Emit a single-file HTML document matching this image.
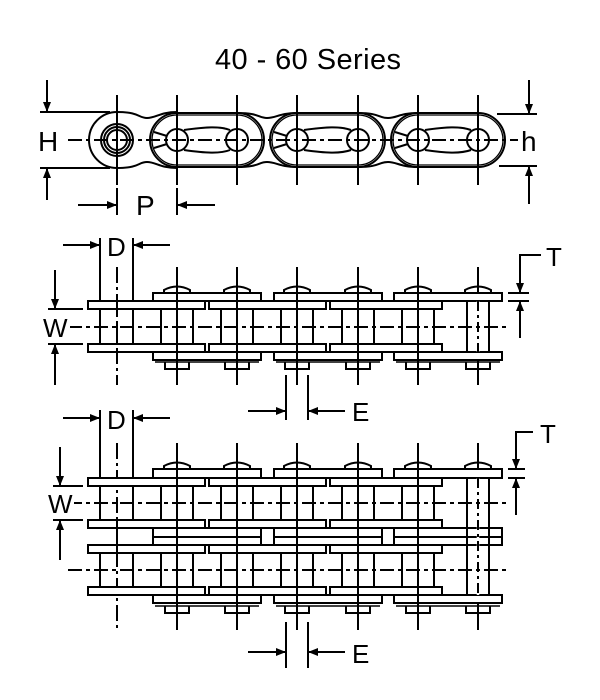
<!DOCTYPE html>
<html><head><meta charset="utf-8"><style>
html,body{margin:0;padding:0;background:#fff;}
svg{display:block;}
text{font-family:"Liberation Sans",sans-serif;fill:#000;}
</style></head><body>
<svg width="600" height="700" viewBox="0 0 600 700" xmlns="http://www.w3.org/2000/svg">
<defs>
<marker id="ar" viewBox="0 0 10 10" refX="10" refY="5" markerWidth="12" markerHeight="10" markerUnits="userSpaceOnUse" orient="auto"><path d="M0,1 L10,5 L0,9 Z" fill="#000"/></marker>
</defs>
<g stroke="#000" stroke-width="2" fill="none">
<text x="215" y="69" font-size="29" textLength="186" stroke="none">40 - 60 Series</text>

<!-- ===== TOP VIEW ===== -->
<!-- inner links (waisted) -->
<g fill="#fff">
<path d="M117,112 C140,112 138,118 147,118 C156,118 160,112 177,112 L177,168 C160,168 156,162 147,162 C138,162 140,168 117,168 A28,28 0 0 1 117,112 Z"/>
<path d="M237,113 C260,113 258,118 267,118 C276,118 280,113 297,113 L297,167 C280,167 276,162 267,162 C258,162 260,167 237,167 Z"/>
<path d="M358,113 C380,113 378,118 388,118 C397,118 400,113 418,113 L418,167 C400,167 397,162 388,162 C378,162 380,167 358,167 Z"/>
</g>
<!-- outer links -->
<g fill="#fff">
<path d="M177,113 L237,113 A27,27 0 0 1 237,167 L177,167 A27,27 0 0 1 177,113 Z"/>
<path d="M297,113 L358,113 A27,27 0 0 1 358,167 L297,167 A27,27 0 0 1 297,113 Z"/>
<path d="M418,113 L478,113 A27,27 0 0 1 478,167 L418,167 A27,27 0 0 1 418,113 Z"/>
</g>
<g stroke-width="1.3">
<path d="M177,115 L237,115 A25,25 0 0 1 237,165 L177,165 A25,25 0 0 1 177,115 Z"/>
<path d="M297,115 L358,115 A25,25 0 0 1 358,165 L297,165 A25,25 0 0 1 297,115 Z"/>
<path d="M418,115 L478,115 A25,25 0 0 1 478,165 L418,165 A25,25 0 0 1 418,115 Z"/>
</g>
<!-- slots -->
<path d="M184,130 C205,127 220,126 230,130 M184,150 C205,153 220,154 230,150"/>
<path d="M304,130 C325,127 340,126 351,130 M304,150 C325,153 340,154 351,150"/>
<path d="M425,130 C445,127 460,126 471,130 M425,150 C445,153 460,154 471,150"/>
<!-- spokes -->
<path d="M154,132 L167,136 M154,148 L167,144 M274,132 L287,136 M274,148 L287,144 M395,132 L408,136 M395,148 L408,144"/>
<!-- first pin -->
<circle cx="117" cy="140" r="16" fill="#fff"/><circle cx="117" cy="140" r="13"/><circle cx="117" cy="140" r="10"/>
<!-- rollers -->
<g fill="#fff">
<circle cx="177" cy="140" r="11"/><circle cx="237" cy="140" r="11"/><circle cx="297" cy="140" r="11"/>
<circle cx="358" cy="140" r="11"/><circle cx="418" cy="140" r="11"/><circle cx="478" cy="140" r="11"/>
</g>
<!-- pin lines -->
<path d="M117,95 V185 M177,95 V185 M237,95 V185 M297,95 V185 M358,95 V185 M418,95 V185 M478,95 V185"/>
<path d="M68,140 H540" stroke-dasharray="14,4,4,4"/>
<!-- H dim -->
<path d="M40,112 H110 M40,168 H110"/>
<path d="M47,80 V112" marker-end="url(#ar)"/><path d="M47,200 V168" marker-end="url(#ar)"/>
<rect x="36" y="128" width="26" height="24" fill="#fff" stroke="none"/>
<text x="38" y="151" font-size="28" stroke="none">H</text>
<!-- h dim -->
<path d="M497,114 H537 M499,166 H537"/>
<path d="M529,80 V114" marker-end="url(#ar)"/><path d="M529,204 V166" marker-end="url(#ar)"/>
<rect x="518" y="128" width="22" height="24" fill="#fff" stroke="none"/>
<text x="521" y="151" font-size="28" stroke="none">h</text>
<!-- P dim -->
<path d="M117,188 V215 M177,188 V215"/>
<path d="M78,205 H117" marker-end="url(#ar)"/><path d="M215,205 H177" marker-end="url(#ar)"/>
<text x="136" y="215" font-size="28" stroke="none">P</text>

<!-- ===== SINGLE STRAND ===== -->
<g id="strandS">
<!-- pin center lines -->
<path d="M177,267 V385 M237,267 V385 M297,267 V385 M358,267 V385 M418,267 V385 M478,267 V385"/>
<path d="M117,267 V385" stroke-dasharray="16,4,3,4"/>
<!-- top outer plates + domes -->
<g fill="#fff">
<rect x="153" y="293" width="108" height="8"/><rect x="274" y="293" width="108" height="8"/><rect x="394" y="293" width="108" height="8"/>
<rect x="88" y="301" width="117" height="8"/><rect x="209" y="301" width="117" height="8"/><rect x="330" y="301" width="112" height="8"/>
<rect x="88" y="344" width="117" height="8"/><rect x="209" y="344" width="117" height="8"/><rect x="330" y="344" width="112" height="8"/>
<rect x="153" y="352" width="108" height="8"/><rect x="274" y="352" width="108" height="8"/><rect x="394" y="352" width="108" height="8"/>
</g>
<path d="M155,362 H259 M276,362 H380 M396,362 H500" stroke-width="1.5"/>
<path d="M164,293 V290 Q177,283 190,290 V293 M224,293 V290 Q237,283 250,290 V293 M284,293 V290 Q297,283 310,290 V293 M345,293 V290 Q358,283 371,290 V293 M405,293 V290 Q418,283 431,290 V293 M465,293 V290 Q478,283 491,290 V293"/>
<path d="M165,362 V369 H189 V362 M225,362 V369 H249 V362 M285,362 V369 H309 V362 M346,362 V369 H370 V362 M406,362 V369 H430 V362 M466,362 V369 H490 V362"/>
<!-- rollers -->
<path d="M100,309 V344 M133,309 V344 M161,309 V344 M193,309 V344 M221,309 V344 M253,309 V344 M281,309 V344 M313,309 V344 M342,309 V344 M374,309 V344 M402,309 V344 M434,309 V344 M467,301 V352 M489,301 V352"/>
<path d="M177,267 V385 M237,267 V385 M297,267 V385 M358,267 V385 M418,267 V385"/>
<path d="M478,301 V352" stroke="#fff" stroke-width="2.5"/><path d="M478,301 V352" stroke-dasharray="10,4,3,4"/>
<path d="M117,301 V352" stroke-dasharray="16,4,3,4"/>
<path d="M68,327 H510" stroke-dasharray="14,4,4,4"/>
</g>
<!-- D dim -->
<path d="M100,238 V301 M133,238 V301"/>
<path d="M63,245 H100" marker-end="url(#ar)"/><path d="M170,245 H133" marker-end="url(#ar)"/>
<text x="107" y="256" font-size="26" stroke="none">D</text>
<!-- W dim -->
<path d="M48,309 H83 M48,344 H83"/>
<path d="M55,270 V309" marker-end="url(#ar)"/><path d="M55,385 V344" marker-end="url(#ar)"/>
<rect x="44" y="315" width="26" height="24" fill="#fff" stroke="none"/>
<text x="43" y="337" font-size="26" stroke="none">W</text>
<!-- T dim -->
<path d="M541,255 H520 V293" marker-end="url(#ar)"/>
<path d="M508,293 H529 M508,301 H529"/>
<path d="M520,338 V301" marker-end="url(#ar)"/>
<text x="546" y="266" font-size="26" stroke="none">T</text>
<!-- E dim -->
<path d="M286,375 V420 M308,375 V420"/>
<path d="M248,411 H286" marker-end="url(#ar)"/><path d="M345,411 H308" marker-end="url(#ar)"/>
<text x="352" y="421" font-size="26" stroke="none">E</text>

<!-- ===== DOUBLE STRAND ===== -->
<path d="M177,443 V630 M237,443 V630 M297,443 V630 M358,443 V630 M418,443 V630 M478,443 V630"/>
<path d="M117,443 V630" stroke-dasharray="16,4,3,4"/>
<g fill="#fff">
<rect x="153" y="469" width="108" height="9"/><rect x="274" y="469" width="108" height="9"/><rect x="394" y="469" width="108" height="9"/>
<rect x="88" y="478" width="117" height="8"/><rect x="209" y="478" width="117" height="8"/><rect x="330" y="478" width="112" height="8"/>
<rect x="88" y="520" width="117" height="8"/><rect x="209" y="520" width="117" height="8"/><rect x="330" y="520" width="112" height="8"/>
<rect x="153" y="528" width="108" height="9"/><rect x="274" y="528" width="108" height="9"/><rect x="394" y="528" width="108" height="9"/>
<rect x="153" y="537" width="108" height="8"/><rect x="274" y="537" width="108" height="8"/><rect x="394" y="537" width="108" height="8"/>
<rect x="88" y="545" width="117" height="8"/><rect x="209" y="545" width="117" height="8"/><rect x="330" y="545" width="112" height="8"/>
<rect x="88" y="587" width="117" height="8"/><rect x="209" y="587" width="117" height="8"/><rect x="330" y="587" width="112" height="8"/>
<rect x="153" y="595" width="108" height="8"/><rect x="274" y="595" width="108" height="8"/><rect x="394" y="595" width="108" height="8"/>
</g>
<path d="M155,606 H259 M276,606 H380 M396,606 H500" stroke-width="1.5"/>
<path d="M164,469 V466 Q177,459 190,466 V469 M224,469 V466 Q237,459 250,466 V469 M284,469 V466 Q297,459 310,466 V469 M345,469 V466 Q358,459 371,466 V469 M405,469 V466 Q418,459 431,466 V469 M465,469 V466 Q478,459 491,466 V469"/>
<path d="M165,606 V613 H189 V606 M225,606 V613 H249 V606 M285,606 V613 H309 V606 M346,606 V613 H370 V606 M406,606 V613 H430 V606 M466,606 V613 H490 V606"/>
<path d="M100,486 V520 M133,486 V520 M161,486 V520 M193,486 V520 M221,486 V520 M253,486 V520 M281,486 V520 M313,486 V520 M342,486 V520 M374,486 V520 M402,486 V520 M434,486 V520 M467,478 V595 M489,478 V595"/>
<path d="M100,553 V587 M133,553 V587 M161,553 V587 M193,553 V587 M221,553 V587 M253,553 V587 M281,553 V587 M313,553 V587 M342,553 V587 M374,553 V587 M402,553 V587 M434,553 V587"/>
<path d="M177,443 V630 M237,443 V630 M297,443 V630 M358,443 V630 M418,443 V630"/>
<path d="M117,520 V553"/>
<path d="M478,478 V595" stroke="#fff" stroke-width="2.5"/><path d="M478,478 V595" stroke-dasharray="10,4,3,4"/>
<path d="M68,503 H510 M68,570 H510" stroke-dasharray="14,4,4,4"/>
<!-- D dim -->
<path d="M100,410 V478 M133,410 V478"/>
<path d="M63,418 H100" marker-end="url(#ar)"/><path d="M170,418 H133" marker-end="url(#ar)"/>
<text x="107" y="429" font-size="26" stroke="none">D</text>
<!-- W dim -->
<path d="M53,486 H83 M53,520 H83"/>
<path d="M60,447 V486" marker-end="url(#ar)"/><path d="M60,560 V520" marker-end="url(#ar)"/>
<rect x="48" y="491" width="26" height="24" fill="#fff" stroke="none"/>
<text x="48" y="513" font-size="26" stroke="none">W</text>
<!-- T dim -->
<path d="M533,432 H516 V469" marker-end="url(#ar)"/>
<path d="M508,469 H525 M508,478 H525"/>
<path d="M516,515 V478" marker-end="url(#ar)"/>
<text x="540" y="443" font-size="26" stroke="none">T</text>
<!-- E dim -->
<path d="M286,622 V668 M308,622 V668"/>
<path d="M248,652 H286" marker-end="url(#ar)"/><path d="M345,652 H308" marker-end="url(#ar)"/>
<text x="352" y="663" font-size="26" stroke="none">E</text>
</g>
</svg>
</body></html>
